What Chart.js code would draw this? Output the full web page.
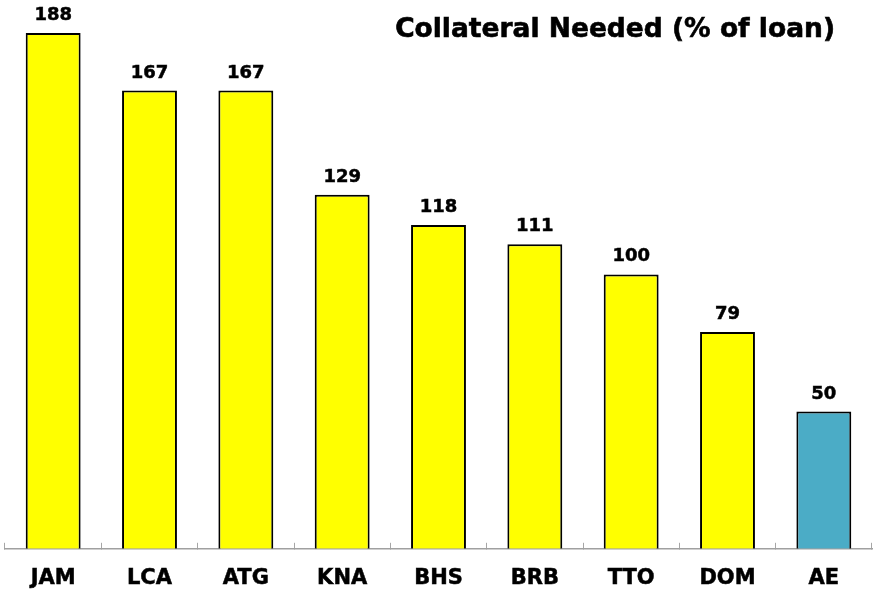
<!DOCTYPE html>
<html>
<head>
<meta charset="utf-8">
<script src="https://cdn.jsdelivr.net/npm/chart.js@4/dist/chart.umd.min.js"></script>
<style>
  html, body { margin: 0; padding: 0; background: #fff; }
  #wrap { position: relative; width: 873px; height: 592px; }
  #title {
    position: absolute; top: 13px; right: 38px;
    font: bold 26.5px "DejaVu Sans", sans-serif; line-height: 30px;
    color: #000; white-space: nowrap;
    -webkit-text-stroke: 0.6px #000;
  }
</style>
</head>
<body>
<div id="wrap">
  <canvas id="chart" width="873" height="592"></canvas>
  <div id="title">Collateral Needed (% of loan)</div>
</div>
<script>
const categories = ["JAM", "LCA", "ATG", "KNA", "BHS", "BRB", "TTO", "DOM", "AE"];
const collateral = [188, 167, 167, 129, 118, 111, 100, 79, 50];
const barColors = ["#ffff00", "#ffff00", "#ffff00", "#ffff00", "#ffff00", "#ffff00", "#ffff00", "#ffff00", "#4bacc6"];

// value labels above each bar
const valueLabels = {
  id: "valueLabels",
  afterDatasetsDraw(chart) {
    const ctx = chart.ctx;
    const meta = chart.getDatasetMeta(0);
    ctx.save();
    ctx.font = "bold 18px 'DejaVu Sans', sans-serif";
    ctx.fillStyle = "#000";
    ctx.strokeStyle = "#000";
    ctx.lineWidth = 0.5;
    ctx.textAlign = "center";
    ctx.textBaseline = "alphabetic";
    meta.data.forEach((bar, i) => {
      ctx.fillText(collateral[i], bar.x, bar.y - 13);
      ctx.strokeText(collateral[i], bar.x, bar.y - 13);
    });
    ctx.restore();
  }
};

new Chart(document.getElementById("chart").getContext("2d"), {
  type: "bar",
  data: {
    labels: categories,
    datasets: [{
      data: collateral,
      backgroundColor: barColors,
      borderColor: "#000",
      borderWidth: 2,
      borderSkipped: "bottom",
      categoryPercentage: 1,
      barPercentage: 0.57
    }]
  },
  options: {
    responsive: false,
    animation: false,
    layout: { padding: { top: 0, left: 5, right: 1, bottom: -22 } },
    plugins: { legend: { display: false }, tooltip: { enabled: false }, title: { display: false } },
    scales: {
      x: {
        grid: { offset: true, drawOnChartArea: false, drawTicks: true, tickLength: -6, color: "#a6a6a6", lineWidth: 1 },
        border: { display: true, color: "#a0a0a0", width: 1.5 },
        ticks: {
          color: "#000", padding: 23, textStrokeWidth: 0.5, textStrokeColor: "#000",
          font: { family: "'DejaVu Sans', sans-serif", size: 21, weight: "bold" }
        }
      },
      y: { display: false, min: 0, max: 200 }
    }
  },
  plugins: [valueLabels]
});
</script>
</body>
</html>
